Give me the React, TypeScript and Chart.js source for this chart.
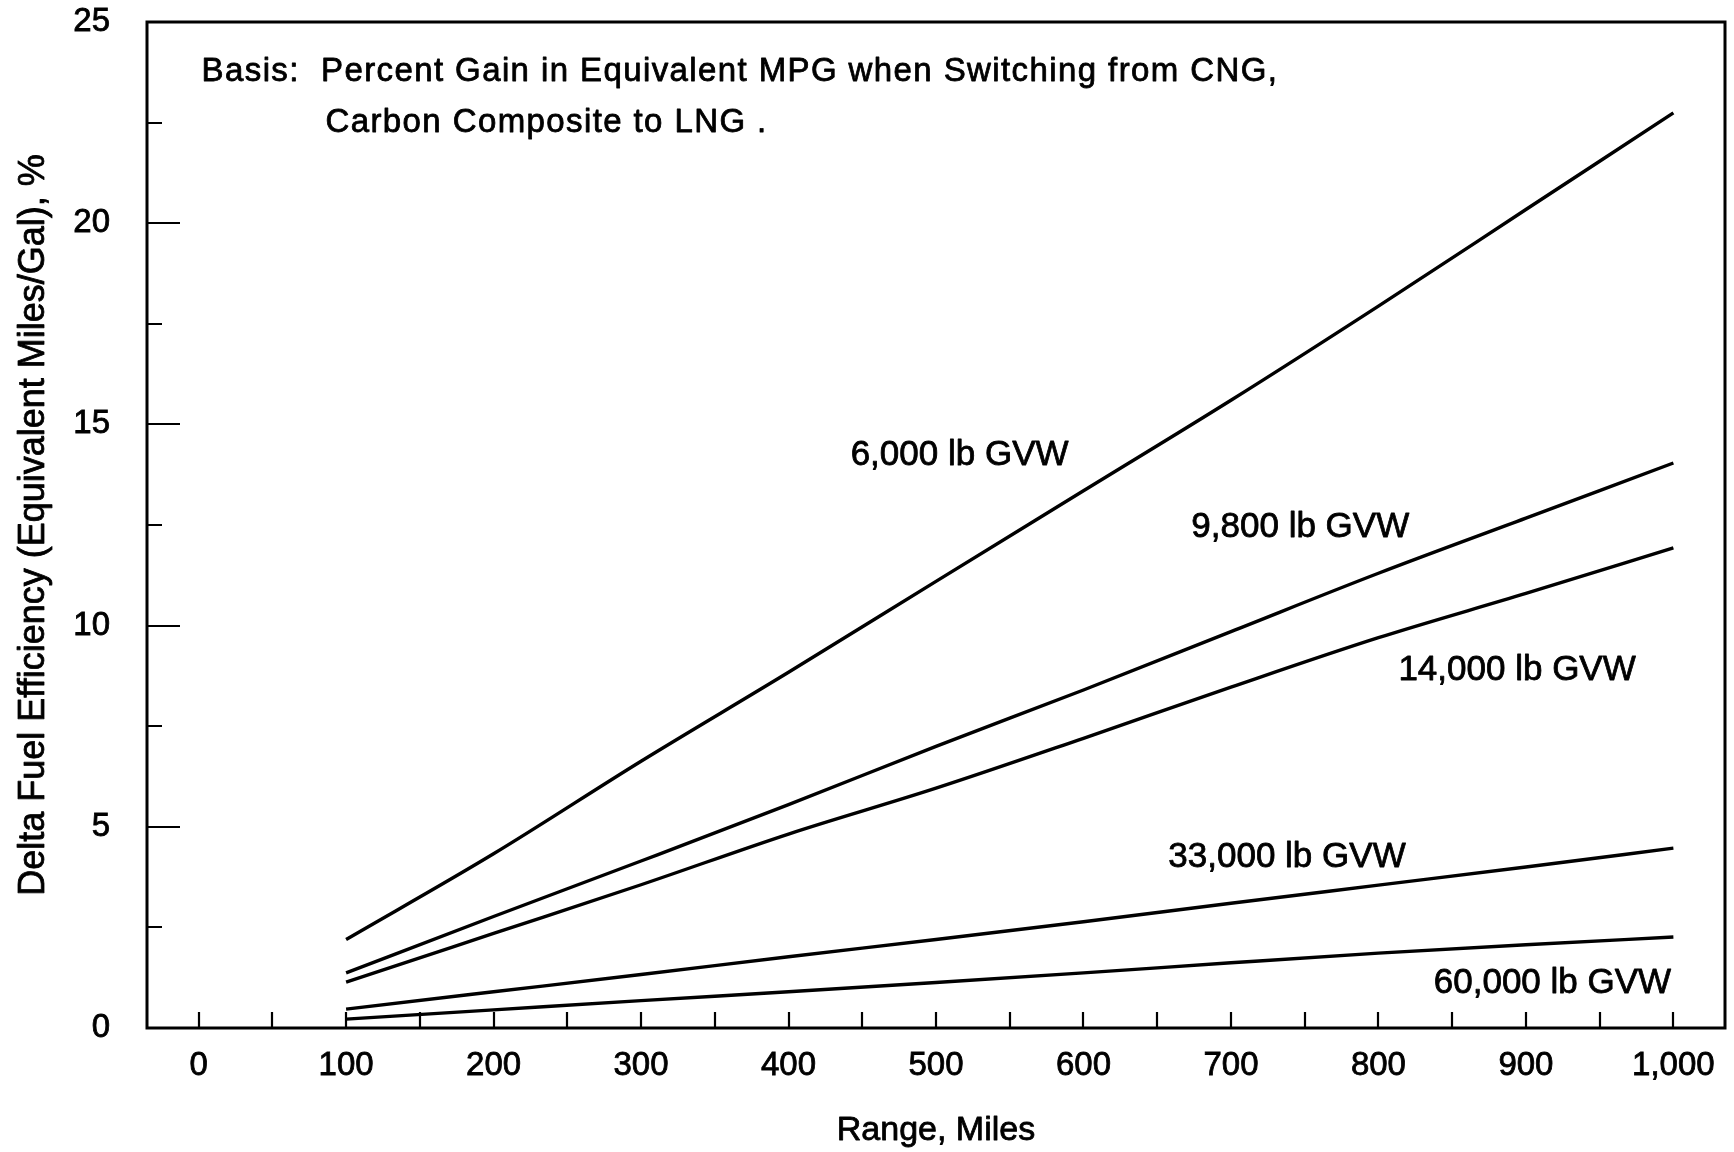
import React, { useEffect, useRef } from "react";
import { Chart, registerables } from "chart.js";

Chart.register(...registerables);

// ---- Data ----
const rangeMiles = [100, 200, 300, 400, 500, 600, 700, 800, 900, 1000];
const gvw6000 = [2.2, 4.33, 6.63, 8.84, 11.1, 13.35, 15.6, 17.94, 20.34, 22.74];
const gvw9800 = [1.37, 2.77, 4.15, 5.55, 7.0, 8.4, 9.85, 11.3, 12.67, 14.04];
const gvw14000 = [1.14, 2.35, 3.56, 4.82, 5.96, 7.2, 8.47, 9.7, 10.8, 11.93];
const gvw33000 = [0.47, 0.9, 1.33, 1.77, 2.2, 2.64, 3.1, 3.55, 4.0, 4.47];
const gvw60000 = [0.22, 0.45, 0.68, 0.9, 1.13, 1.37, 1.62, 1.86, 2.07, 2.26];

const seriesNames = ["6,000 lb GVW", "9,800 lb GVW", "14,000 lb GVW", "33,000 lb GVW", "60,000 lb GVW"];
const seriesValues = [gvw6000, gvw9800, gvw14000, gvw33000, gvw60000];
// label anchor positions in data units (range, percent)
const seriesLabelX = [516, 747, 894, 738, 918];
const seriesLabelY = [14.3, 12.52, 8.95, 4.32, 1.19];

const xTickValues = [0, 50, 100, 150, 200, 250, 300, 350, 400, 450, 500, 550, 600, 650, 700, 750, 800, 850, 900, 950, 1000];
const xLabelStep = 100;
const yTickValues = [0, 5, 10, 15, 20, 25];
const yMinorTickValues = [2.5, 7.5, 12.5, 17.5, 22.5];

const basisLines = [
  "Basis:  Percent Gain in Equivalent MPG when Switching from CNG,",
  "Carbon Composite to LNG .",
];
const basisX = [2, 86];
const basisY = [23.83, 22.55];

const xTitle = "Range, Miles";
const yTitle = "Delta Fuel Efficiency (Equivalent Miles/Gal), %";

const FONT = '"Liberation Sans", Arial, Helvetica, sans-serif';
const STROKE = 0.8;

function drawText(ctx: any, text: string, x: number, y: number) {
  ctx.fillText(text, x, y);
  ctx.strokeText(text, x, y);
}

const decorPlugin = {
  id: "decor",
  afterDatasetsDraw(chart: any) {
    const { ctx, chartArea } = chart;
    const xs = chart.scales.x;
    const ys = chart.scales.y;
    const { left, right, top, bottom } = chartArea;
    ctx.save();
    ctx.strokeStyle = "#000";
    ctx.lineCap = "butt";
    ctx.lineWidth = 2.2;
    ctx.beginPath();
    xs.ticks.forEach((t: any) => {
      const px = Math.round(xs.getPixelForValue(t.value));
      ctx.moveTo(px, bottom);
      ctx.lineTo(px, bottom - 16);
    });
    ys.ticks.forEach((t: any) => {
      const py = Math.round(ys.getPixelForValue(t.value));
      ctx.moveTo(left, py);
      ctx.lineTo(left + 33, py);
    });
    yMinorTickValues.forEach((v) => {
      const py = Math.round(ys.getPixelForValue(v));
      ctx.moveTo(left, py);
      ctx.lineTo(left + 15, py);
    });
    ctx.stroke();

    // frame
    ctx.lineWidth = 3;
    ctx.strokeRect(left, top, right - left, bottom - top);

    ctx.fillStyle = "#000";
    ctx.lineWidth = STROKE;
    ctx.lineJoin = "round";

    // series labels
    ctx.font = `35px ${FONT}`;
    ctx.textAlign = "center";
    ctx.textBaseline = "alphabetic";
    seriesNames.forEach((name, i) => {
      const px = xs.getPixelForValue(seriesLabelX[i]);
      const py = ys.getPixelForValue(seriesLabelY[i]);
      drawText(ctx, name, px, py + 0.358 * 35);
    });

    // basis note
    ctx.font = `33px ${FONT}`;
    ctx.textAlign = "left";
    try {
      (ctx as any).letterSpacing = "1.4px";
    } catch (e) {}
    basisLines.forEach((line, i) => {
      const px = xs.getPixelForValue(basisX[i]);
      const py = ys.getPixelForValue(basisY[i]);
      drawText(ctx, line, px, py + 0.358 * 33);
    });
    try {
      (ctx as any).letterSpacing = "0px";
    } catch (e) {}

    // axis titles
    ctx.textAlign = "center";
    ctx.font = `34px ${FONT}`;
    drawText(ctx, xTitle, (left + right) / 2, 1128 + 0.358 * 34);

    ctx.font = `36px ${FONT}`;
    ctx.save();
    ctx.translate(31, (top + bottom) / 2);
    ctx.rotate(-Math.PI / 2);
    drawText(ctx, yTitle, 0, 0.358 * 36);
    ctx.restore();

    ctx.restore();
  },
};

function formatMiles(v: number) {
  return v.toLocaleString("en-US");
}

export default function App() {
  const canvasRef = useRef<HTMLCanvasElement | null>(null);

  useEffect(() => {
    const canvas = canvasRef.current;
    if (!canvas) return;
    const datasets = seriesNames.map((name, i) => ({
      label: name,
      data: rangeMiles.map((x, j) => ({ x, y: seriesValues[i][j] })),
      borderColor: "#000",
      backgroundColor: "#000",
      borderWidth: 3.4,
      pointRadius: 0,
      cubicInterpolationMode: "monotone",
      fill: false,
    }));

    const chart = new Chart(canvas, {
      type: "line",
      data: { datasets },
      options: {
        animation: false,
        responsive: false,
        devicePixelRatio: 1,
        layout: { padding: { top: 22, right: 9, left: 0, bottom: 0 } },
        plugins: {
          legend: { display: false },
          tooltip: { enabled: false },
        },
        scales: {
          x: {
            type: "linear",
            min: -35,
            max: 1035,
            afterBuildTicks: (scale: any) => {
              scale.ticks = xTickValues.map((v) => ({ value: v }));
            },
            afterFit: (scale: any) => {
              scale.height = 124;
              scale.paddingLeft = 0;
              scale.paddingRight = 0;
              scale.paddingTop = 0;
              scale.paddingBottom = 0;
            },
            grid: { display: false, drawTicks: false },
            border: { display: false },
            ticks: {
              autoSkip: false,
              maxRotation: 0,
              minRotation: 0,
              padding: 18,
              color: "#000",
              textStrokeColor: "#000",
              textStrokeWidth: STROKE,
              font: { family: FONT, size: 33 },
              callback: (v: any) => (Number(v) % xLabelStep === 0 ? formatMiles(Number(v)) : ""),
            },
            title: { display: false, text: xTitle },
          },
          y: {
            type: "linear",
            min: 0,
            max: 25,
            afterBuildTicks: (scale: any) => {
              scale.ticks = yTickValues.map((v) => ({ value: v }));
            },
            afterFit: (scale: any) => {
              scale.width = 147;
              scale.paddingLeft = 0;
              scale.paddingRight = 0;
              scale.paddingTop = 0;
              scale.paddingBottom = 0;
            },
            grid: { display: false, drawTicks: false },
            border: { display: false },
            ticks: {
              autoSkip: false,
              padding: 37,
              color: "#000",
              textStrokeColor: "#000",
              textStrokeWidth: STROKE,
              font: { family: FONT, size: 33 },
              callback: (v: any) => String(v),
            },
            title: { display: false, text: yTitle },
          },
        },
      },
      plugins: [decorPlugin],
    } as any);

    return () => {
      chart.destroy();
    };
  }, []);

  return (
    <div style={{ position: "fixed", left: 0, top: 0, width: 1734, height: 1152, background: "#fff" }}>
      <canvas ref={canvasRef} width={1734} height={1152} style={{ width: 1734, height: 1152, display: "block" }} />
    </div>
  );
}
